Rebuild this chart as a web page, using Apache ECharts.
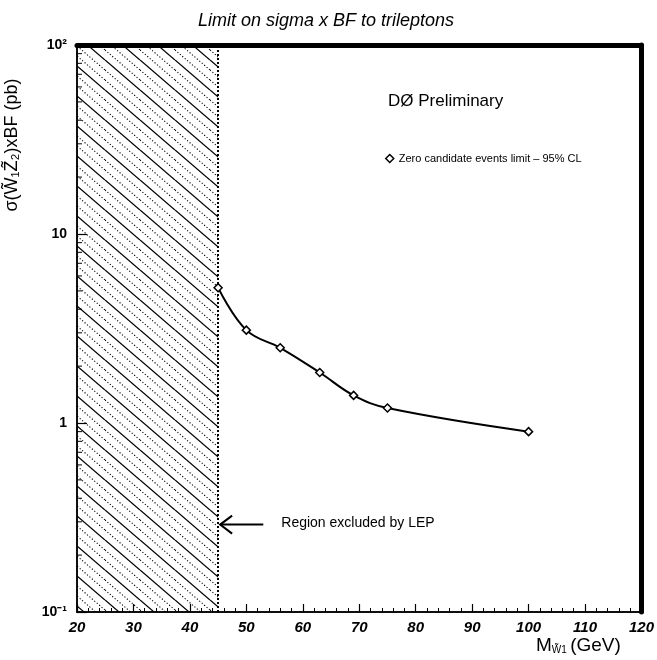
<!DOCTYPE html>
<html>
<head>
<meta charset="utf-8">
<script src="https://cdn.jsdelivr.net/npm/echarts@6/dist/echarts.min.js"></script>
<style>
  html, body { margin: 0; padding: 0; background: #fff; }
  #chart { width: 657px; height: 660px; }
</style>
</head>
<body>
<div id="chart"></div>
<script>
// chart data
const massValues = [45, 50, 56, 63, 69, 75, 100];
const sigmaLimit = [5.2, 3.1, 2.5, 1.85, 1.4, 1.2, 0.9];
const lepLimit = 45;
const arrowLevel = 0.29;
const xTicks = [20, 30, 40, 50, 60, 70, 80, 90, 100, 110, 120];
const yTickLabels = { '0.1': '10⁻¹', '1': '1', '10': '10', '100': '10²' };
const yMinorTicks = [0.2, 0.3, 0.4, 0.5, 0.6, 0.7, 0.8, 0.9,
  2, 3, 4, 5, 6, 7, 8, 9, 20, 30, 40, 50, 60, 70, 80, 90];

const chart = echarts.init(document.getElementById('chart'));

// hatch pattern for the LEP region: one solid + two dotted diagonals per tile
const makeHatch = () => {
  const w = 35, h = 30;
  const c = document.createElement('canvas');
  c.width = w; c.height = h;
  const ctx = c.getContext('2d');
  ctx.strokeStyle = '#000';
  const offs = [0, h / 3, 2 * h / 3];
  offs.forEach((o, i) => {
    ctx.setLineDash(i === 0 ? [] : [1.2, 2]);
    ctx.lineWidth = i === 0 ? 1.3 : 1.1;
    [-h, 0, h].forEach(k => {
      ctx.beginPath();
      ctx.moveTo(0, o + k);
      ctx.lineTo(w, o + k + h);
      ctx.stroke();
    });
  });
  return c;
};

const font = 'Liberation Sans, Arial, sans-serif';
const diamond = 'diamond';

const option = {
  animation: false,
  backgroundColor: '#fff',
  title: {
    text: 'Limit on sigma x BF to trileptons',
    left: 193,
    top: 7,
    textStyle: { fontFamily: font, fontSize: 18, fontWeight: 'normal', fontStyle: 'italic', color: '#000' }
  },
  legend: {
    left: 380,
    top: 148,
    itemWidth: 8,
    itemHeight: 8,
    itemGap: 6,
    data: [{ name: 'Zero candidate events limit – 95% CL', icon: diamond }],
    textStyle: { fontFamily: font, fontSize: 11, color: '#000' },
    itemStyle: { color: '#fff', borderColor: '#000', borderWidth: 1.5 }
  },
  grid: {
    left: 77, right: 14, top: 45, bottom: 48,
    show: true, borderColor: '#000', borderWidth: 1.5, backgroundColor: '#fff'
  },
  xAxis: [{
    type: 'value', min: 20, max: 120, interval: 10,
    axisLine: { lineStyle: { color: '#000', width: 1.5 } },
    axisTick: { inside: true, length: 8, lineStyle: { color: '#000', width: 1.2 } },
    minorTick: { show: true, splitNumber: 5, length: 4, lineStyle: { color: '#000', width: 1 } },
    splitLine: { show: false },
    axisLabel: {
      margin: 8, fontFamily: font, fontSize: 15, fontWeight: 'bold', fontStyle: 'italic', color: '#000',
      showMinLabel: true, showMaxLabel: true,
      formatter: v => xTicks.includes(v) ? String(v) : ''
    }
  }, {
    type: 'value', min: 20, max: 120, position: 'top',
    axisLine: { lineStyle: { color: '#000', width: 5 } },
    axisTick: { show: false }, axisLabel: { show: false }, splitLine: { show: false }
  }],
  yAxis: [{
    type: 'log', logBase: 10, min: 0.1, max: 100,
    axisLine: { lineStyle: { color: '#000', width: 1.5 } },
    axisTick: { inside: true, length: 10, lineStyle: { color: '#000', width: 1.2 } },
    splitLine: { show: false },
    axisLabel: {
      margin: 10, fontFamily: font, fontSize: 14, fontWeight: 'bold', color: '#000',
      formatter: v => yTickLabels[String(+v.toPrecision(3))] || ''
    }
  }, {
    type: 'log', logBase: 10, min: 0.1, max: 100, position: 'right',
    axisLine: { lineStyle: { color: '#000', width: 5 } },
    axisTick: { show: false }, axisLabel: { show: false }, splitLine: { show: false }
  }],
  series: [
    {
      // excluded region + its dotted boundary
      type: 'line', data: [], silent: true,
      markArea: {
        silent: true,
        itemStyle: { color: { image: makeHatch(), repeat: 'repeat' } },
        data: [[{ xAxis: 20, yAxis: 0.1 }, { xAxis: lepLimit, yAxis: 100 }]]
      },
      markLine: {
        silent: true, symbol: 'none', label: { show: false },
        lineStyle: { color: '#000', width: 2, type: [2, 2] },
        data: [{ xAxis: lepLimit }]
      }
    },
    {
      // log minor ticks on the left edge
      type: 'custom', silent: true,
      data: yMinorTicks.map(v => [20, v]),
      renderItem: (params, api) => {
        const p = api.coord([api.value(0), api.value(1)]);
        return { type: 'line', shape: { x1: p[0], y1: p[1], x2: p[0] + 5, y2: p[1] },
          style: { stroke: '#000', lineWidth: 1 } };
      }
    },
    {
      name: 'Zero candidate events limit – 95% CL',
      type: 'line',
      data: massValues.map((m, i) => [m, sigmaLimit[i]]),
      smooth: 0.4,
      symbol: diamond,
      symbolSize: 8,
      lineStyle: { color: '#000', width: 2 },
      itemStyle: { color: '#fff', borderColor: '#000', borderWidth: 1.5 },
      z: 5
    }
  ]
};

chart.setOption(option);

// annotations placed through the axis scales
const tip = chart.convertToPixel({ gridIndex: 0 }, [lepLimit, arrowLevel]);
const tail = chart.convertToPixel({ gridIndex: 0 }, [53, arrowLevel]);
chart.setOption({
  graphic: [
    { type: 'line', shape: { x1: tip[0] + 2, y1: tip[1], x2: tail[0], y2: tail[1] },
      style: { stroke: '#000', lineWidth: 2 } },
    { type: 'polyline', shape: { points: [[tip[0] + 14, tip[1] - 9], [tip[0] + 2, tip[1]], [tip[0] + 14, tip[1] + 9]] },
      style: { stroke: '#000', lineWidth: 2, fill: null } },
    { type: 'text', left: tail[0] + 18, top: tail[1] - 8,
      style: { text: 'Region excluded by LEP', font: '14px ' + font, fill: '#000' } },
    { type: 'text', left: 388, top: 93,
      style: { text: 'DØ Preliminary', font: '17px ' + font, fill: '#000' } },
    { type: 'text', rotation: Math.PI / 2, x: 12, y: 145,
      style: { text: 'σ(W̃₁Z̃₂)xBF (pb)', font: '18px ' + font, fill: '#000', align: 'center', verticalAlign: 'middle' } },
    { type: 'text', left: 536, top: 636,
      style: {
        text: '{m|M}{s|W̃1} {m|(GeV)}',
        rich: {
          m: { font: '19px ' + font, fill: '#000' },
          s: { font: '10px ' + font, fill: '#000', verticalAlign: 'bottom', padding: [8, 0, 0, 0] }
        }
      } }
  ]
});
</script>
</body>
</html>
